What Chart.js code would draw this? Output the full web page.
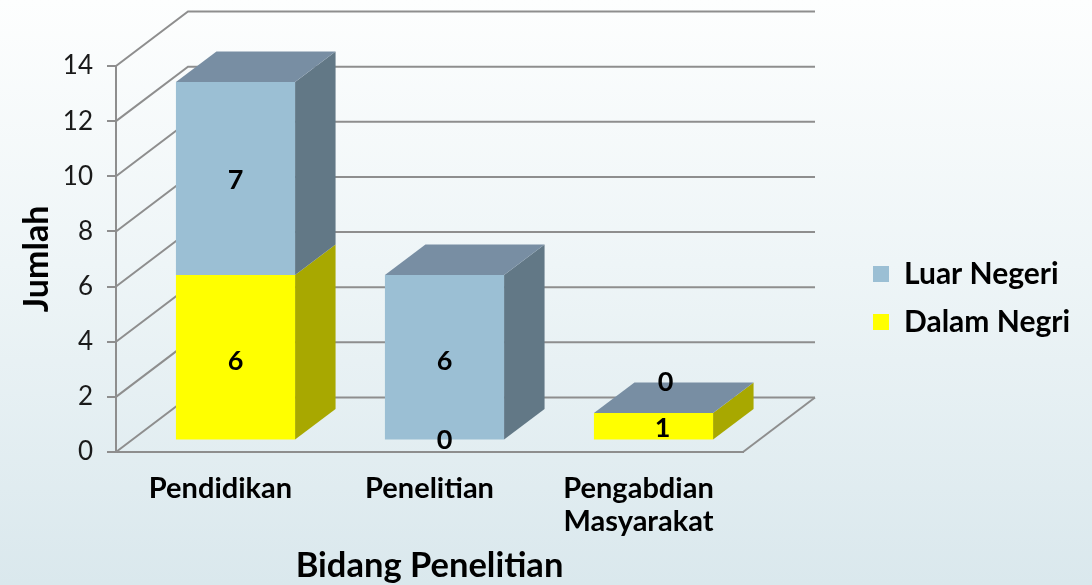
<!DOCTYPE html>
<html><head><meta charset="utf-8">
<style>html,body{margin:0;padding:0;width:1092px;height:585px;overflow:hidden;background:linear-gradient(to bottom,#fdfefe 0%,#eef5f7 45%,#dae8ed 100%)}canvas{display:block}</style>
<script src="https://cdn.jsdelivr.net/npm/chart.js@4/dist/chart.umd.js"></script>
</head><body><canvas id="c" width="1092" height="585"></canvas>
<script>
const categories=[['Pendidikan'],['Penelitian'],['Pengabdian','Masyarakat']];
const dalamNegri=[6,0,1];
const luarNegeri=[7,6,0];
const yTicks={min:0,max:14,step:2};

const FONT='Lato';
const GRID='#8e8e8e';
const WALL={x:72,y:-54.5}, BAR={x:15,y:-11.5}, DEPTH={x:40.5,y:-30.5};
const SIDE=['#a8a800','#627886'], TOP=['#a8a800','#788ea3'];
const NUDGE=[[[0,4],[0,0],[9,2]],[[0,2],[0,4],[12,-31]]];

function poly(ctx,pts,fill){ctx.beginPath();pts.forEach((p,i)=>i?ctx.lineTo(p[0],p[1]):ctx.moveTo(p[0],p[1]));ctx.closePath();ctx.fillStyle=fill;ctx.fill();}

const threeD={
 id:'threeD',
 afterLayout(chart){
  const l=chart.legend;const w=l.width,h=l.height;
  l.left=855;l.top=241;l.right=l.left+w;l.bottom=l.top+h;
 },
 beforeDatasetsDraw(chart){
  const {ctx,chartArea:a,scales:{y}}=chart;
  ctx.save();ctx.strokeStyle=GRID;ctx.lineWidth=2;
  y.ticks.forEach(t=>{
   const py=y.getPixelForValue(t.value);
   ctx.beginPath();ctx.moveTo(a.left,py);ctx.lineTo(a.left+WALL.x,py+WALL.y);ctx.lineTo(a.right+WALL.x,py+WALL.y);ctx.stroke();
  });
  ctx.beginPath();ctx.moveTo(a.right,a.bottom);ctx.lineTo(a.right+WALL.x,a.bottom+WALL.y);ctx.stroke();
  const n=chart.data.labels.length;
  for(let i=0;i<n;i++){
   chart.data.datasets.forEach((ds,d)=>{
    const el=chart.getDatasetMeta(d).data[i];
    const r=el.x+el.width/2+BAR.x,t=el.y+BAR.y,b=el.base+BAR.y;
    if(b-t>0.5)poly(ctx,[[r,t],[r+DEPTH.x,t+DEPTH.y],[r+DEPTH.x,b+DEPTH.y],[r,b]],SIDE[d]);
   });
   const d=chart.data.datasets.length-1;
   const el=chart.getDatasetMeta(d).data[i];
   const l=el.x-el.width/2+BAR.x,r=el.x+el.width/2+BAR.x,t=el.y+BAR.y;
   poly(ctx,[[l,t],[l+DEPTH.x,t+DEPTH.y],[r+DEPTH.x,t+DEPTH.y],[r,t]],TOP[d]);
  }
  ctx.restore();
  ctx.save();ctx.translate(BAR.x,BAR.y);
 },
 afterDatasetsDraw(chart){
  const {ctx}=chart;ctx.restore();
  ctx.save();ctx.font='bold 27px '+FONT;ctx.fillStyle='#000';ctx.textAlign='center';ctx.textBaseline='middle';
  chart.data.datasets.forEach((ds,d)=>{
   chart.getDatasetMeta(d).data.forEach((el,i)=>{
    const n=NUDGE[d][i];
    ctx.fillText(String(ds.data[i]),el.x+BAR.x+n[0],(el.y+el.base)/2+BAR.y+n[1]);
   });
  });
  ctx.restore();
 }
};

new Chart(document.getElementById('c'),{
 type:'bar',
 data:{labels:categories,datasets:[
  {label:'Dalam Negri',data:dalamNegri,backgroundColor:'#ffff00',borderWidth:0},
  {label:'Luar Negeri',data:luarNegeri,backgroundColor:'#9bbfd4',borderWidth:0}
 ]},
 plugins:[threeD],
 options:{
  responsive:false,animation:false,
  layout:{autoPadding:false,padding:{left:0,top:66,right:349,bottom:0}},
  datasets:{bar:{categoryPercentage:1,barPercentage:0.57}},
  plugins:{
   tooltip:{enabled:false},
   legend:{position:'chartArea',align:'start',reverse:true,
    labels:{boxWidth:16,boxHeight:16,padding:18,color:'#000',font:{family:FONT,weight:'bold',size:30,lineHeight:1.16}}}
  },
  scales:{
   x:{stacked:true,
    afterFit(s){s.height=133;},
    grid:{display:false},border:{color:GRID,width:2},
    ticks:{color:'#000',maxRotation:0,autoSkip:false,padding:12,font:{family:FONT,weight:'bold',size:29,lineHeight:1.14}},
    title:{display:true,text:'Bidang Penelitian',color:'#000',padding:{top:0,bottom:-2},font:{family:FONT,weight:'bold',size:34.5}}
   },
   y:{stacked:true,min:yTicks.min,max:yTicks.max,
    afterFit(s){s.width=116;},
    grid:{drawOnChartArea:false,drawTicks:true,tickLength:9,color:GRID,lineWidth:2},border:{color:GRID,width:2},
    ticks:{stepSize:yTicks.step,color:'#1a1a1a',padding:14,font:{family:FONT,size:26}},
    title:{display:true,text:'Jumlah',color:'#000',padding:{top:17,bottom:0},font:{family:FONT,weight:'bold',size:34}}
   }
  }
 }
});
</script></body></html>
